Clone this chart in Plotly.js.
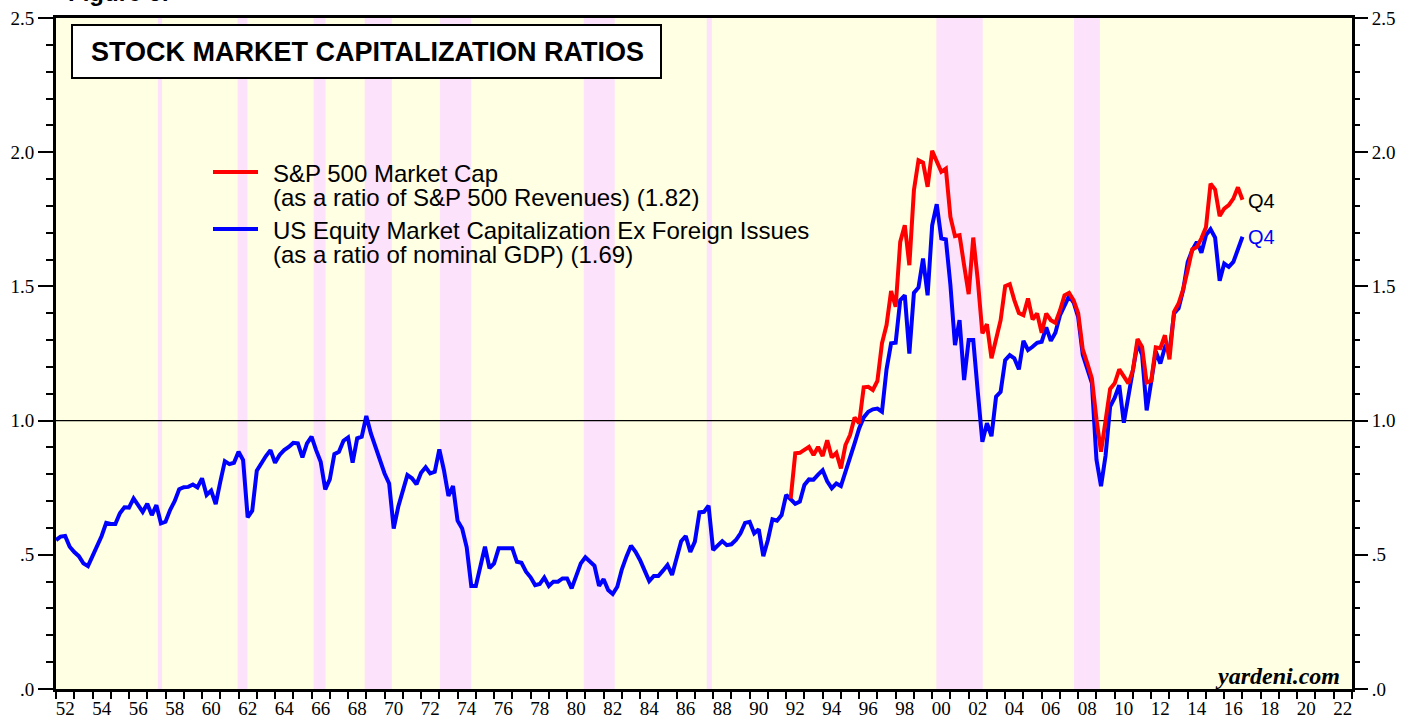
<!DOCTYPE html>
<html><head><meta charset="utf-8">
<script src="https://cdn.plot.ly/plotly-3.0.1.min.js"></script>
<style>html,body{margin:0;padding:0;background:#fff;} #chart{width:1417px;height:721px;}</style>
</head><body><div id="chart"></div>
<script>
// ---- data (quarterly, plotted at quarter end in decimal years) ----
const quarterStep = 0.25;
const blueStart = 1952.0;
const blueValues = [
 .555,.568,.570,.530,  .510,.495,.468,.458,  .495,.530,.570,.619,  .615,.615,.655,.677,
 .676,.710,.685,.660,  .690,.648,.685,.617,  .623,.667,.700,.744,  .752,.753,.762,.751,
 .785,.723,.739,.689,  .772,.849,.838,.843,  .884,.853,.640,.664,  .813,.843,.868,.890,
 .843,.872,.890,.902,  .917,.915,.863,.915,  .940,.890,.847,.744,  .781,.875,.884,.925,
 .937,.843,.934,.940,  1.017,.952,.902,.847, .803,.766,.598,.679,  .741,.797,.785,.763,
 .806,.826,.803,.809,  .893,.816,.719,.756,  .627,.598,.528,.384,  .384,.456,.530,.450,
 .468,.524,.524,.521,  .524,.474,.470,.437,  .416,.387,.391,.415,  .384,.400,.400,.412,
 .412,.375,.425,.468,  .491,.474,.459,.384,  .409,.369,.354,.381,  .446,.493,.534,.511,
 .480,.441,.402,.421,  .421,.441,.462,.425,  .487,.551,.570,.511,  .549,.658,.660,.683,
 .518,.536,.551,.536,  .539,.555,.580,.619,  .623,.580,.595,.495,  .555,.632,.627,.648,
 .723,.707,.690,.698,  .760,.781,.780,.799,  .815,.774,.748,.766,  .756,.809,.859,.915,
 .971,1.012,1.033,1.042, 1.045,1.033,1.191,1.288, 1.290,1.449,1.467,1.250, 1.476,1.496,1.604,1.467,
 1.728,1.806,1.679,1.675, 1.505,1.281,1.374,1.151, 1.300,1.300,1.107,.921, .990,.942,1.089,1.107,
 1.225,1.244,1.232,1.191, 1.297,1.263,1.275,1.290, 1.294,1.347,1.297,1.327, 1.392,1.430,1.464,1.440,
 1.385,1.245,1.195,1.140, .855,.756,.870,1.052, 1.085,1.132,.992,1.092, 1.188,1.288,1.245,1.038,
 1.145,1.258,1.213,1.273, 1.256,1.399,1.418,1.486, 1.591,1.635,1.666,1.625, 1.691,1.713,1.682,1.521,
 1.585,1.573,1.591,1.635, 1.685
];
const redStart = 1992.25;
const redValues = [
 .710,.878,.880,
 .890,.902,.872,.902,  .868,.927,.863,.880,  .822,.909,.946,1.012,  .990,1.124,1.126,1.114,
 1.148,1.288,1.356,1.483, 1.424,1.666,1.728,1.579, 1.858,1.970,1.961,1.871, 2.005,1.964,1.927,1.939,
 1.759,1.687,1.691,1.579, 1.471,1.682,1.523,1.325, 1.359,1.232,1.300,1.374, 1.501,1.508,1.449,1.401,
 1.393,1.455,1.377,1.399, 1.327,1.399,1.374,1.364, 1.410,1.467,1.476,1.448, 1.400,1.265,1.213,1.157,
 1.005,.884,1.000,1.118, 1.139,1.191,1.165,1.139, 1.188,1.304,1.275,1.142, 1.148,1.273,1.270,1.318,
 1.228,1.405,1.436,1.489, 1.561,1.638,1.647,1.679, 1.720,1.883,1.861,1.762, 1.790,1.803,1.827,1.869,
 1.823
];
// S&P 500 bear markets (shaded)
const bearStart = [1957.58, 1961.95, 1966.11, 1968.91, 1973.03, 1980.91, 1987.65, 2000.23, 2007.77];
const bearEnd   = [1957.81, 1962.49, 1966.77, 1970.40, 1974.75, 1982.61, 1987.93, 2002.77, 2009.19];

const xTickYears  = [1952,1954,1956,1958,1960,1962,1964,1966,1968,1970,1972,1974,1976,1978,1980,1982,1984,1986,1988,1990,1992,1994,1996,1998,2000,2002,2004,2006,2008,2010,2012,2014,2016,2018,2020,2022];
const xTickLabels = ['52','54','56','58','60','62','64','66','68','70','72','74','76','78','80','82','84','86','88','90','92','94','96','98','00','02','04','06','08','10','12','14','16','18','20','22'];
const yTickValues = [0, 0.5, 1.0, 1.5, 2.0, 2.5];
const yTickLabels = ['.0', '.5', '1.0', '1.5', '2.0', '2.5'];

const seriesNames = ['US Equity Market Capitalization Ex Foreign Issues (as a ratio of nominal GDP)',
                     'S&P 500 Market Cap (as a ratio of S&P 500 Revenues)'];
const legendLines = [
  ['S&P 500 Market Cap', '(as a ratio of S&P 500 Revenues) (1.82)'],
  ['US Equity Market Capitalization Ex Foreign Issues', '(as a ratio of nominal GDP) (1.69)']
];

// ---- geometry ----
const W = 1417, H = 721, ML = 56, MR = 65, MT = 18, MB = 32;
const PW = W - ML - MR, PH = H - MT - MB;
const px = p => (p - ML) / PW;
const py = p => (H - MB - p) / PH;

const blueX = blueValues.map((_, i) => blueStart + i * quarterStep);
const redX = redValues.map((_, i) => redStart + i * quarterStep);

const RED = '#ff0000', BLUE = '#0000ff';
const YELLOW = '#ffffe3', PINK = '#fce3fb';
const sans = 'Liberation Sans, Arial, Helvetica, sans-serif';
const serif = 'Liberation Serif, Times New Roman, serif';

const traces = [
  {x: blueX, y: blueValues, type: 'scatter', mode: 'lines', name: seriesNames[0],
   line: {color: BLUE, width: 4}, hoverinfo: 'skip'},
  {x: redX, y: redValues, type: 'scatter', mode: 'lines', name: seriesNames[1],
   line: {color: RED, width: 4}, hoverinfo: 'skip'},
  {x: [blueX[0]], y: [0], yaxis: 'y2', type: 'scatter', mode: 'markers',
   marker: {opacity: 0}, hoverinfo: 'skip', showlegend: false}
];

const shapes = [];
bearStart.forEach((s, i) => shapes.push({type: 'rect', xref: 'x', yref: 'paper', x0: s, x1: bearEnd[i],
  y0: 0, y1: 1, fillcolor: PINK, line: {width: 0}, layer: 'below'}));
shapes.push({type: 'line', xref: 'paper', yref: 'y', x0: 0, x1: 1, y0: 1, y1: 1,
  line: {color: '#000', width: 1.2}, layer: 'below'});
// title box
shapes.push({type: 'rect', xref: 'paper', yref: 'paper', x0: px(72), x1: px(661), y0: py(78), y1: py(25),
  fillcolor: '#fff', line: {color: '#000', width: 2}, layer: 'above'});
// legend swatches
shapes.push({type: 'line', xref: 'paper', yref: 'paper', x0: px(213), x1: px(258), y0: py(172), y1: py(172),
  line: {color: RED, width: 4}});
shapes.push({type: 'line', xref: 'paper', yref: 'paper', x0: px(213), x1: px(258), y0: py(229), y1: py(229),
  line: {color: BLUE, width: 4}});

const ann = (text, x, y, opts) => Object.assign({text, xref: 'paper', yref: 'paper', x, y,
  showarrow: false, xanchor: 'left', yanchor: 'middle', font: {family: sans, size: 24, color: '#000'}}, opts || {});

const annotations = [
  ann('<b>STOCK MARKET CAPITALIZATION RATIOS</b>', px(367), py(52), {xanchor: 'center', font: {family: sans, size: 27, color: '#000'}}),
  ann('<b>Figure 6:</b>', px(66), py(-7), {font: {family: sans, size: 24, color: '#000'}}),
  ann(legendLines[0][0], px(271), py(173)),
  ann(legendLines[0][1], px(271), py(197)),
  ann(legendLines[1][0], px(271), py(230)),
  ann(legendLines[1][1], px(271), py(254)),
  ann('Q4', px(1246), py(201), {font: {family: sans, size: 20, color: '#000'}}),
  ann('Q4', px(1246), py(237), {font: {family: sans, size: 20, color: BLUE}}),
  ann('<b><i>yardeni.com</i></b>', px(1342), py(676), {xanchor: 'right', font: {family: serif, size: 24, color: '#000'}})
];

const yCommon = {
  range: [0, 2.5], tickmode: 'array', tickvals: yTickValues, ticktext: yTickLabels,
  ticks: 'outside', ticklen: 15, tickwidth: 2, tickcolor: '#000',
  minor: {tickmode: 'linear', tick0: 0, dtick: 0.1, ticks: 'outside', ticklen: 7, tickwidth: 2, tickcolor: '#000', showgrid: false},
  showgrid: false, zeroline: false, fixedrange: true,
  tickfont: {family: serif, size: 19, color: '#000'}
};

const layout = {
  width: W, height: H,
  margin: {l: ML, r: MR, t: MT, b: MB, pad: 0},
  paper_bgcolor: '#ffffff', plot_bgcolor: YELLOW,
  showlegend: false, hovermode: false,
  xaxis: {
    range: [1952, 2023], tickmode: 'array',
    tickvals: xTickYears.map(y => y + 0.5), ticktext: xTickLabels,
    ticks: '', showgrid: false, zeroline: false, fixedrange: true,
    minor: {tickmode: 'linear', tick0: 1952, dtick: 1, ticks: 'outside', ticklen: 7, tickwidth: 2, tickcolor: '#000', showgrid: false},
    showline: true, linecolor: '#000', linewidth: 3, mirror: true,
    tickfont: {family: serif, size: 19, color: '#000'}, ticklabelstandoff: 0
  },
  yaxis: Object.assign({}, yCommon, {side: 'left', showline: true, linecolor: '#000', linewidth: 3, mirror: true}),
  yaxis2: Object.assign({}, yCommon, {side: 'right', overlaying: 'y', showline: false}),
  shapes, annotations
};

Plotly.newPlot('chart', traces, layout, {staticPlot: true, displayModeBar: false});
</script></body></html>
